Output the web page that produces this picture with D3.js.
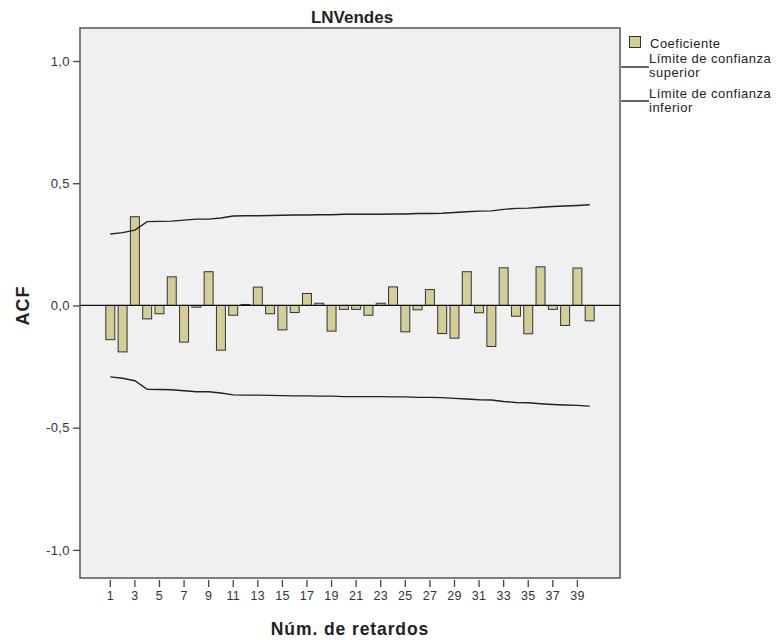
<!DOCTYPE html>
<html>
<head>
<meta charset="utf-8">
<script src="https://cdn.jsdelivr.net/npm/d3@7/dist/d3.min.js"></script>
<style>
  html, body { margin: 0; padding: 0; background: #ffffff; }
  svg { display: block; font-family: "Liberation Sans", Arial, sans-serif; }
</style>
</head>
<body>
<svg id="chart" width="776" height="640"></svg>
<script>
// ---- data ----
const lags = d3.range(1, 41);
const acf = [
  -0.140, -0.190, 0.363, -0.055, -0.034, 0.117, -0.150, -0.007, 0.138, -0.183,
  -0.040, 0.004, 0.075, -0.034, -0.100, -0.029, 0.049, 0.009, -0.105, -0.016,
  -0.016, -0.040, 0.009, 0.076, -0.108, -0.018, 0.065, -0.115, -0.134, 0.138,
  -0.030, -0.168, 0.154, -0.044, -0.116, 0.158, -0.016, -0.082, 0.153, -0.063
];
const upperLimit = [
  0.292, 0.298, 0.308, 0.343, 0.344, 0.345, 0.349, 0.353, 0.353, 0.358,
  0.366, 0.367, 0.367, 0.368, 0.369, 0.370, 0.370, 0.371, 0.371, 0.373,
  0.373, 0.373, 0.373, 0.374, 0.374, 0.376, 0.376, 0.377, 0.380, 0.383,
  0.386, 0.387, 0.393, 0.397, 0.398, 0.402, 0.405, 0.407, 0.409, 0.412
];
const lowerLimit = [
  -0.292, -0.298, -0.308, -0.343, -0.344, -0.345, -0.349, -0.353, -0.353, -0.358,
  -0.366, -0.367, -0.367, -0.368, -0.369, -0.370, -0.370, -0.371, -0.371, -0.373,
  -0.373, -0.373, -0.373, -0.374, -0.374, -0.376, -0.376, -0.377, -0.380, -0.383,
  -0.386, -0.387, -0.393, -0.397, -0.398, -0.402, -0.405, -0.407, -0.409, -0.412
];
const yTicks = [-1.0, -0.5, 0.0, 0.5, 1.0];
const xTicks = d3.range(1, 40, 2);
const title = "LNVendes";
const xTitle = "Núm. de retardos";
const yTitle = "ACF";
const legendItems = ["Coeficiente", ["Límite de confianza", "superior"], ["Límite de confianza", "inferior"]];

// ---- layout ----
const plot = { left: 80, right: 620, top: 28, bottom: 578 };
const barFill = "#d3ce97";
const fontFam = "'Liberation Sans', Arial, sans-serif";
const svg = d3.select("#chart");

const x = d3.scaleBand().domain(lags).range([plot.left, plot.right])
  .paddingInner(0.27).paddingOuter(2.1);
const y = d3.scaleLinear().domain([-1.115, 1.135]).range([plot.bottom, plot.top]);
const cx = d => x(d) + x.bandwidth() / 2;

// plot background
svg.append("rect")
  .attr("x", plot.left).attr("y", plot.top)
  .attr("width", plot.right - plot.left).attr("height", plot.bottom - plot.top)
  .attr("fill", "#f0f0f0").attr("stroke", "#555").attr("stroke-width", 1.5);

// bars
svg.append("g").selectAll("rect").data(lags).join("rect")
  .attr("x", d => x(d))
  .attr("width", x.bandwidth())
  .attr("y", (d, i) => y(Math.max(0, acf[i])))
  .attr("height", (d, i) => Math.max(1, Math.abs(y(acf[i]) - y(0))))
  .attr("fill", barFill).attr("stroke", "#333").attr("stroke-width", 1);

// zero line
svg.append("line")
  .attr("x1", plot.left).attr("x2", plot.right)
  .attr("y1", y(0)).attr("y2", y(0))
  .attr("stroke", "#111").attr("stroke-width", 1.3);

// confidence lines
const line = d3.line().x(d => cx(d[0])).y(d => y(d[1]));
[upperLimit, lowerLimit].forEach(arr => {
  svg.append("path")
    .datum(lags.map((l, i) => [l, arr[i]]))
    .attr("d", line)
    .attr("fill", "none").attr("stroke", "#222").attr("stroke-width", 1.4);
});

// y axis
const yAxis = d3.axisLeft(y).tickValues(yTicks)
  .tickFormat(d => d3.format(".1f")(d).replace(".", ",").replace("−", "-"))
  .tickSize(7).tickPadding(3).tickSizeOuter(0);
const gy = svg.append("g").attr("transform", `translate(${plot.left},0)`).call(yAxis);
gy.select(".domain").remove();
gy.selectAll(".tick line").attr("stroke", "#444").attr("stroke-width", 1.3);
gy.selectAll(".tick text").attr("fill", "#333").style("font-size", "13px")
  .style("letter-spacing", "0.4px").style("font-family", fontFam);

// x axis
const xAxis = d3.axisBottom(x).tickValues(xTicks).tickSize(7).tickPadding(4).tickSizeOuter(0);
const gx = svg.append("g").attr("transform", `translate(0,${plot.bottom + 2})`).call(xAxis);
gx.select(".domain").remove();
gx.selectAll(".tick line").attr("stroke", "#444").attr("stroke-width", 1.3);
gx.selectAll(".tick text").attr("fill", "#333").style("font-size", "12.5px")
  .style("letter-spacing", "0.3px").style("font-family", fontFam);

// titles
svg.append("text").attr("x", 352).attr("y", 23).attr("text-anchor", "middle")
  .style("font-size", "17px").style("font-weight", "bold").attr("fill", "#222").text(title);
svg.append("text").attr("x", 350).attr("y", 635).attr("text-anchor", "middle")
  .style("font-size", "17.5px").style("font-weight", "bold").style("letter-spacing", "0.9px")
  .attr("fill", "#222").text(xTitle);
svg.append("text").attr("transform", `translate(29,${y(0)}) rotate(-90)`)
  .attr("text-anchor", "middle")
  .style("font-size", "18px").style("font-weight", "bold").style("letter-spacing", "1px")
  .attr("fill", "#222").text(yTitle);

// legend
const lg = svg.append("g").style("font-size", "13px").style("letter-spacing", "0.5px");
lg.append("rect").attr("x", 629.5).attr("y", 36.5).attr("width", 11).attr("height", 11)
  .attr("fill", barFill).attr("stroke", "#333").attr("stroke-width", 1);
lg.append("text").attr("x", 650).attr("y", 48).attr("fill", "#222").text(legendItems[0]);
[[legendItems[1], 63, 67], [legendItems[2], 98, 101]].forEach(([lines, ty, ly]) => {
  lg.append("line").attr("x1", 621).attr("x2", 649).attr("y1", ly).attr("y2", ly)
    .attr("stroke", "#222").attr("stroke-width", 1.4);
  lines.forEach((t, j) => {
    lg.append("text").attr("x", 649).attr("y", ty + j * 14).attr("fill", "#222").text(t);
  });
});
</script>
</body>
</html>
